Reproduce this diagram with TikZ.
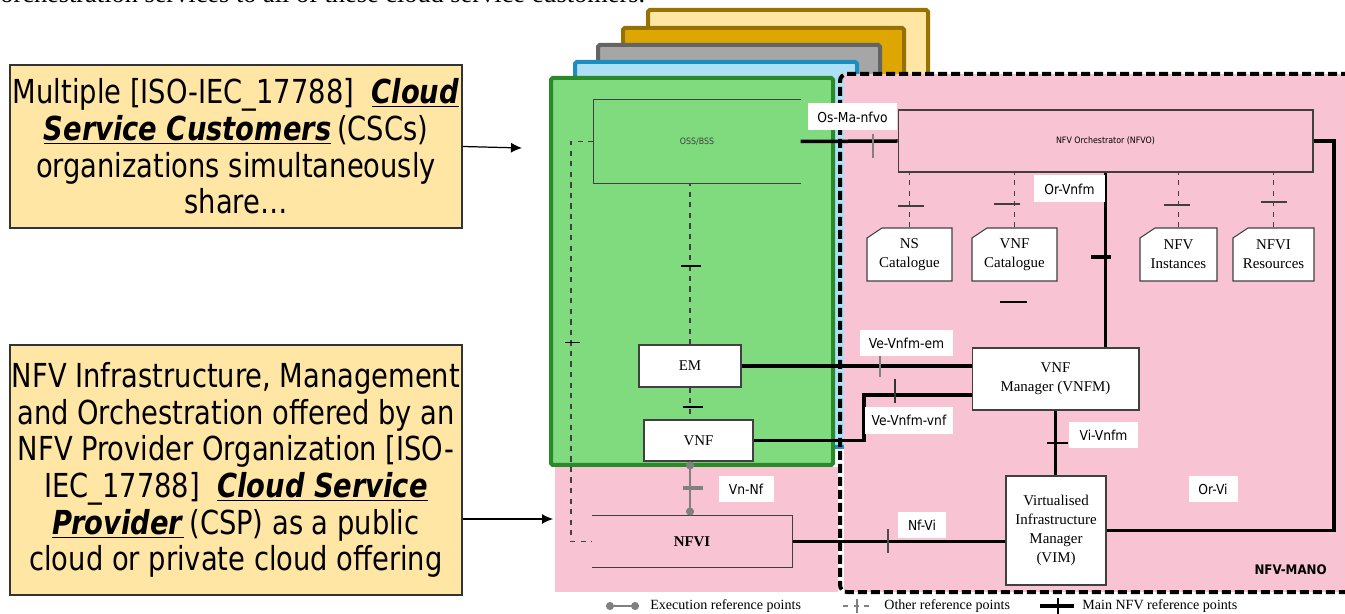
\documentclass[tikz,border=0pt]{standalone}
\usepackage{fontspec}
\setmainfont{Liberation Serif}
\newfontfamily\notefont[FakeStretch=0.92]{DejaVu Sans Condensed}
\newfontfamily\reffont{DejaVu Sans Condensed}
\usetikzlibrary{calc}
\usetikzlibrary{positioning}
\usetikzlibrary{arrows.meta}

\definecolor{cream}{RGB}{255,230,165}
\definecolor{creamedge}{RGB}{153,115,0}
\definecolor{gold}{RGB}{221,166,0}
\definecolor{goldedge}{RGB}{150,112,0}
\definecolor{stonegray}{RGB}{166,166,166}
\definecolor{stoneedge}{RGB}{100,100,100}
\definecolor{skyblue}{RGB}{173,224,244}
\definecolor{skyedge}{RGB}{27,141,191}
\definecolor{leafgreen}{RGB}{128,218,126}
\definecolor{leafedge}{RGB}{42,138,42}
\definecolor{manopink}{RGB}{248,196,212}

\tikzset{
  layer/.style={line width=0.08cm, rounded corners=1pt},
  fblock/.style={draw=black!75, line width=0.6pt, fill=white, align=center, inner sep=0,
    font=\fontsize{8.5}{10.8}\selectfont},
  refname/.style={fill=white, inner sep=0, minimum height=0.54cm,
    font=\reffont\fontsize{7.8}{9}\selectfont},
  mainref/.style={line width=0.07cm},
  otherref/.style={dashed, draw=black!75, line width=0.6pt},
  execref/.style={draw=gray, line width=0.05cm},
  notebox/.style={draw=black!80, line width=0.8pt, fill=cream, align=center, inner sep=0,
    font=\notefont\fontsize{18.8}{20.9}\selectfont},
  legendtxt/.style={anchor=west, inner sep=0, font=\fontsize{8}{9}\selectfont}
}

\begin{document}
\begin{tikzpicture}[x=0.02cm, y=-0.02cm]
  \useasboundingbox (0,0) rectangle (1345,614);

  % caption line, cut off at the top
  \node[anchor=base west, inner sep=0, font=\fontsize{15}{17}\selectfont] (caption) at (0,3)
    {orchestration services to all of these cloud service customers.};

  % customer layers, back to front
  \foreach \l/\t/\r/\fc/\dc in {
    648/10/928/cream/creamedge,
    623/28/904/gold/goldedge,
    598/45/880/stonegray/stoneedge,
    575/62/857/skyblue/skyedge}{
    \draw[layer, draw=\dc, fill=\fc] (\l,\t) rectangle (\r,447);
  }
  \draw[layer, draw=leafedge, fill=leafgreen] (551,78) rectangle (833,465);

  % NFVI area and NFV-MANO area
  \fill[manopink] (555,467) rectangle (838,592);
  \fill[manopink] (844,74) rectangle (1350,592);
  \draw[line width=0.08cm, dash pattern=on 0.18cm off 0.08cm, rounded corners=4pt]
    (1350,74) -- (840,74) -- (840,592) -- (1350,592);
  \node[anchor=east, inner sep=0, font=\reffont\bfseries\fontsize{7.5}{8}\selectfont] (manoname) at (1327,570) {NFV-MANO};

  % the two explanation boxes
  \node[notebox, minimum width=9.04cm, minimum height=3.26cm] (csc) at (236,146.5) {%
    Multiple [ISO-IEC\_17788]~~\underline{\textbf{\textit{Cloud}}}\\
    \underline{\textbf{\textit{Service Customers}}}\,(CSCs)\\
    organizations simultaneously\\
    share…};
  \node[notebox, minimum width=9.04cm, minimum height=5.0cm] (csp) at (236,470) {%
    NFV Infrastructure, Management\\
    and Orchestration offered by an\\
    NFV Provider Organization [ISO-\\
    IEC\_17788]~~\underline{\textbf{\textit{Cloud Service}}}\\
    \underline{\textbf{\textit{Provider}}}\,(CSP) as a public\\
    cloud or private cloud offering};
  \coordinate (cscend) at (522,148);
  \coordinate (cspend) at (553,519);
  \draw[-{Latex[length=2.2mm,width=2mm]}, line width=0.7pt] (csc.east) -- (cscend);
  \draw[-{Latex[length=2.2mm,width=2mm]}, line width=0.7pt] (csp.east |- cspend) -- (cspend);

  % functional blocks
  \node[fblock, draw=none, fill=none, minimum width=4.12cm, minimum height=1.66cm,
    font=\reffont\fontsize{5}{6}\selectfont, text=black!75] (oss) at (697,141.5) {OSS/BSS};
  \draw[black!75, line width=0.6pt] (oss.north east) -- (oss.north west) -- (oss.south west) -- (oss.south east);
  \node[fblock, fill=manopink, minimum width=8.3cm, minimum height=1.24cm,
    font=\reffont\fontsize{5}{6}\selectfont] (nfvo) at (1105.5,141) {NFV Orchestrator (NFVO)};
  \node[fblock, minimum width=2.04cm, minimum height=0.84cm] (em) at (690,366) {EM};
  \node[fblock, minimum width=2.18cm, minimum height=0.82cm] (vnf) at (698.5,440.5) {VNF};
  \node[fblock, minimum width=3.34cm, minimum height=1.24cm] (vnfm) at (1055.5,379) {VNF\\Manager (VNFM)};
  \node[fblock, minimum width=2.0cm, minimum height=2.18cm] (vim) at (1056,530.5)
    {Virtualised\\Infrastructure\\Manager\\(VIM)};
  \node[fblock, draw=none, fill=none, minimum width=4.0cm, minimum height=1.02cm,
    font=\bfseries\fontsize{8.5}{9}\selectfont] (nfvi) at (692,541.5) {NFVI};
  \draw[black!75, line width=0.6pt] (nfvi.north west) -- (nfvi.north east) -- (nfvi.south east) -- (nfvi.south west);

  % repositories (clipped corner)
  \foreach \name/\cx/\hw/\txt in {
    nscat/909.5/42.5/{NS\\Catalogue},
    vnfcat/1014.5/42.5/{VNF\\Catalogue},
    nfvinst/1178.5/38.5/{NFV\\Instances},
    nfvires/1273.5/40.5/{NFVI\\Resources}}{
    \draw[black!75, line width=0.6pt, fill=white]
      (\cx-\hw,281) -- (\cx-\hw,238) -- (\cx-\hw+15,228) -- (\cx+\hw,228) -- (\cx+\hw,281) -- cycle;
    \node[fblock, draw=none, fill=none, minimum width=1.5cm, minimum height=1.06cm] (\name) at (\cx,254.5) {\txt};
    \draw[otherref] (\name.north) -- (\name.north |- nfvo.south);
  }

  % main reference points
  \draw[mainref] (oss.east) -- (nfvo.west);
  \draw[mainref] (nfvo.south) -- (nfvo.south |- vnfm.north);
  \draw[mainref] (em.east) -- (em.east -| vnfm.west);
  \coordinate (vnfbend) at (864,395);
  \draw[mainref] (vnf.east) -| (vnfbend) -- (vnfbend -| vnfm.west);
  \draw[mainref] (vnfm.south) -- (vnfm.south |- vim.north);
  \coordinate (orvicorner) at (1334,0);
  \draw[mainref] (nfvo.east) -| (orvicorner |- vim.east) -- (vim.east);
  \draw[mainref] (nfvi.east) -- (nfvi.east -| vim.west);

  % other reference points
  \draw[otherref] (em.north) -- (em.north |- oss.south);
  \draw[otherref] (em.south) -- (em.south |- vnf.north);
  \coordinate (osswest) at (571,0);
  \draw[otherref, line width=0.8pt] (oss.west) -| (osswest |- nfvi.west) -- (nfvi.west);

  % execution reference point
  \draw[execref, {Circle[length=4.5pt]}-{Circle[length=4.5pt]}] (em.south |- vnf.south) -- (em.south |- nfvi.north);

  % ticks on the reference points
  \foreach \x/\y/\c in {873/146/gray, 880/365/gray, 895/391/black!80, 888/541/black!70}{
    \draw[\c, line width=0.9pt] (\x,\y-12) -- (\x,\y+12);
  }
  \foreach \xa/\xb/\y/\lw/\c in {
    681/701/266/1.4pt/black, 683/703/407/1.4pt/black, 683/703/488/2pt/gray,
    565/580/342/0.5pt/black, 898/924/206/0.9pt/black!75, 994/1020/204/0.9pt/black!75,
    1164/1190/205/0.9pt/black!75, 1261/1287/202/0.9pt/black!75,
    1091/1111/257/1.8pt/black, 1047/1068/443/0.6pt/black, 1000/1027/302/0.8pt/black}{
    \draw[\c, line width=\lw] (\xa,\y) -- (\xb,\y);
  }

  % reference point names
  \foreach \name/\cx/\cy/\w/\txt in {
    osmanfvo/852.5/117/1.78/Os-Ma-nfvo,
    orvnfm/1069.5/189/1.42/Or-Vnfm,
    vevnfmem/906.5/343/1.86/Ve-Vnfm-em,
    vevnfmvnf/909/420.5/1.76/Ve-Vnfm-vnf,
    vnnf/746/489/1.10/Vn-Nf,
    vivnfm/1103.5/435/1.38/Vi-Vnfm,
    orvi/1213/489/0.98/Or-Vi,
    nfvivi/922/525/0.96/Nf-Vi}{
    \node[refname, minimum width=\w cm] (\name) at (\cx,\cy) {\txt};
  }

  % legend
  \node[legendtxt] (execname) at (650,606) {Execution reference points};
  \node[legendtxt] (othername) at (884,606) {Other reference points};
  \node[legendtxt] (mainname) at (1082,606) {Main NFV reference points};
  \draw[execref, {Circle[length=4.5pt]}-{Circle[length=4.5pt]}] ($(execname.west)+(-44,0)$) -- ($(execname.west)+(-11,0)$);
  \draw[otherref, draw=gray] ($(othername.west)+(-41,0)$) -- ($(othername.west)+(-14,0)$);
  \draw[gray, line width=0.6pt] ($(othername.west)+(-27,-7)$) -- ($(othername.west)+(-27,7)$);
  \draw[mainref] ($(mainname.west)+(-42,0)$) -- ($(mainname.west)+(-8,0)$);
  \draw[line width=1pt] ($(mainname.west)+(-24,-8)$) -- ($(mainname.west)+(-24,8)$);
\end{tikzpicture}
\end{document}
